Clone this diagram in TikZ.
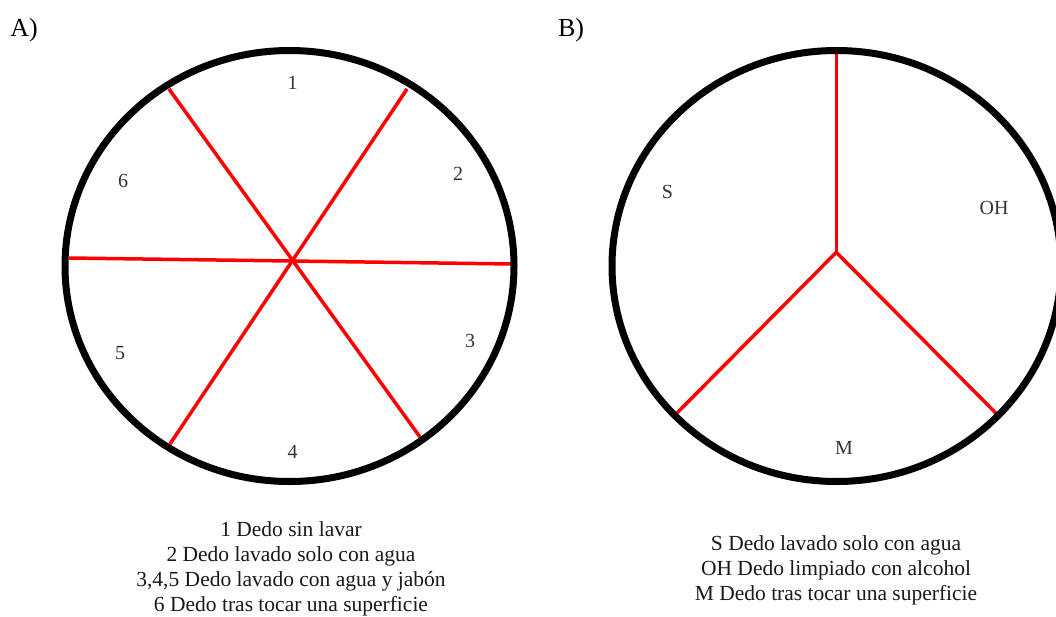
\documentclass[tikz,border=0pt]{standalone}
\usepackage{fontspec}
\setmainfont{Liberation Serif}
\begin{document}
\begin{tikzpicture}[x=1pt,y=-1pt,
  rim/.style={draw=black,line width=7pt},
  spoke/.style={draw=red,line width=3.5pt},
  lbl/.style={font=\fontsize{20}{22}\selectfont,text=black!80,inner sep=0pt},
  panel/.style={font=\fontsize{26}{28}\selectfont,inner sep=0pt},
  legend/.style={font=\fontsize{21.5}{25}\selectfont,text=black!90,inner sep=0pt,anchor=base}]
\useasboundingbox (0,0) rectangle (1056,616);
\clip (0,0) rectangle (1056,616);
\fill[white] (0,0) rectangle (1056,616);
% panel letters
\node[panel] (pa) at (24,30) {A)};
\node[panel] (pb) at (571,30) {B)};
% ---- circle A
\coordinate (ca) at (289.5,266);
\coordinate (oa) at (293,260);
\coordinate (a1) at (169,89);
\coordinate (a2) at (407,89);
\coordinate (a3) at (513,264);
\coordinate (a4) at (420,437);
\coordinate (a5) at (170,444);
\coordinate (a6) at (69,258);
\draw[spoke] (a1) -- (a4);
\draw[spoke] (a2) -- (a5);
\draw[spoke] (a6) -- (a3);
\draw[rim] (ca) ellipse [x radius=224.5, y radius=215.5];
\node[lbl] (n1) at (292.7,82.7) {1};
\node[lbl] (n2) at (458,174) {2};
\node[lbl] (n3) at (470,340.7) {3};
\node[lbl] (n4) at (292.7,451.7) {4};
\node[lbl] (n5) at (120,353) {5};
\node[lbl] (n6) at (123,180.7) {6};
% ---- circle B
\coordinate (cb) at (836.5,266);
\coordinate (ob) at (836.3,252.3);
\coordinate (b1) at (836.3,53);
\coordinate (b2) at (996,413.3);
\coordinate (b3) at (677.3,412.7);
\draw[spoke] (b1) -- (ob);
\draw[spoke,line join=round] (b3) -- (ob) -- (b2);
\draw[rim] (cb) ellipse [x radius=224.5, y radius=215.5];
\node[lbl] (ns) at (667.3,191.7) {S};
\node[lbl] (noh) at (994,208) {OH};
\node[lbl] (nm) at (844,448.3) {M};
% ---- legends
\node[legend] (la1) at (291,536.5) {1 Dedo sin lavar};
\node[legend] (la2) at (291,561.5) {2 Dedo lavado solo con agua};
\node[legend] (la3) at (291,586.5) {3,4,5 Dedo lavado con agua y jabón};
\node[legend] (la4) at (291,611.5) {6 Dedo tras tocar una superficie};
\node[legend] (lb1) at (836,550.5) {S Dedo lavado solo con agua};
\node[legend] (lb2) at (836,575.5) {OH Dedo limpiado con alcohol};
\node[legend] (lb3) at (836,600.5) {M Dedo tras tocar una superficie};
\end{tikzpicture}
\end{document}
